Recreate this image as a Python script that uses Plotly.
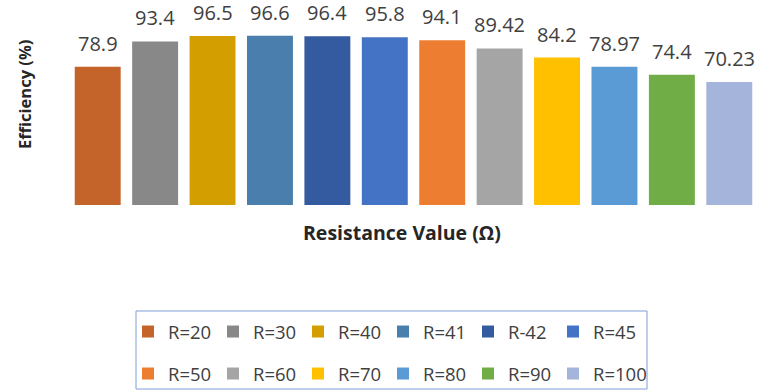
import plotly.graph_objects as go

# Efficiency measured at each load resistance
labels = ["R=20", "R=30", "R=40", "R=41", "R-42", "R=45",
          "R=50", "R=60", "R=70", "R=80", "R=90", "R=100"]
efficiency = [78.9, 93.4, 96.5, 96.6, 96.4, 95.8,
              94.1, 89.42, 84.2, 78.97, 74.4, 70.23]
colors = ["#C4632A", "#888888", "#D39E00", "#4A7EAD", "#345B9F", "#4472C4",
          "#ED7D31", "#A5A5A5", "#FFC000", "#5B9BD5", "#70AD47", "#A5B4DA"]

W, H = 758, 391
L, R, T, B = 69, 0, 10, 186
plot_w = W - L - R
plot_h = H - T - B

FONT = "Open Sans"
ITEM_PITCH = 85  # legend entry spacing in px


def legend_for(i):
    # first row: six entries; second row: five entries plus the wide last one
    if i < 6:
        return "legend"
    if i < 11:
        return "legend2"
    return "legend3"


fig = go.Figure()
for i, (name, val, col) in enumerate(zip(labels, efficiency, colors)):
    fig.add_trace(go.Bar(
        x=[i], y=[val], name=name,
        marker=dict(color=col, line=dict(width=0)),
        legend=legend_for(i),
        hoverinfo="name+y",
    ))
    # value label above the bar
    fig.add_annotation(
        x=i, y=val, text=str(val), showarrow=False,
        yanchor="bottom", yshift=8,
        font=dict(family=FONT, size=20, color="#404040"),
    )


def px_to_paper_x(px):
    return (px - L) / plot_w


def px_to_paper_y(py):
    return (H - B - py) / plot_h


# axis titles
fig.add_annotation(
    xref="paper", yref="paper",
    x=px_to_paper_x(24), y=px_to_paper_y(95),
    text="<b>Efficiency (%)</b>", textangle=-90, showarrow=False,
    xanchor="center", yanchor="middle",
    font=dict(family=FONT, size=16.5, color="#262626"),
)
fig.add_annotation(
    xref="paper", yref="paper",
    x=px_to_paper_x(402), y=px_to_paper_y(232),
    text="<b>Resistance Value (Ω)</b>", showarrow=False,
    xanchor="center", yanchor="middle",
    font=dict(family=FONT, size=19.5, color="#262626"),
)

# legend frame
fig.add_shape(
    type="rect", xref="paper", yref="paper",
    x0=px_to_paper_x(136), x1=px_to_paper_x(647),
    y0=px_to_paper_y(389), y1=px_to_paper_y(311),
    line=dict(color="#7F9FD6", width=1), fillcolor="rgba(0,0,0,0)",
)

legend_common = dict(
    orientation="h", xref="container", yref="container",
    xanchor="left", yanchor="middle",
    entrywidth=ITEM_PITCH - 45, entrywidthmode="pixels",
    itemwidth=30, traceorder="normal",
    font=dict(family=FONT, size=18.5, color="#404040"),
    bgcolor="rgba(0,0,0,0)", borderwidth=0,
)
legend_last = dict(legend_common, entrywidth=0)

x0_legend = 128
row1_y, row2_y = 332, 374

fig.update_layout(
    width=W, height=H,
    margin=dict(l=L, r=R, t=T, b=B),
    paper_bgcolor="white", plot_bgcolor="white",
    barmode="overlay", bargap=0.2,
    showlegend=True,
    legend=dict(legend_common, x=x0_legend / W, y=1 - row1_y / H),
    legend2=dict(legend_common, x=x0_legend / W, y=1 - row2_y / H),
    legend3=dict(legend_last, x=(x0_legend + 5 * ITEM_PITCH) / W, y=1 - row2_y / H),
    xaxis=dict(range=[-0.5, 11.5], showticklabels=False, showgrid=False,
               zeroline=False, showline=False, ticks=""),
    yaxis=dict(range=[0, plot_h / 1.751], showticklabels=False, showgrid=False,
               zeroline=False, showline=False, ticks=""),
    font=dict(family=FONT),
)

fig.write_html("out.html")
